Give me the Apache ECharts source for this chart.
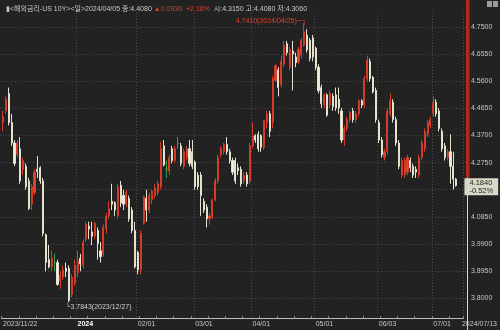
<!DOCTYPE html>
<html>
<head>
<meta charset="utf-8">
<script src="https://cdn.jsdelivr.net/npm/echarts@6/dist/echarts.min.js"></script>
<style>
  html, body { margin: 0; padding: 0; background: #222222; }
  #main { width: 500px; height: 330px; }
</style>
</head>
<body>
<div id="main"></div>
<script>
// trading days shown on the chart, grouped by month
const tradingDays = {
  "2023/11": [22, 24, 27, 28, 29, 30],
  "2023/12": [1, 4, 5, 6, 7, 8, 11, 12, 13, 14, 15, 18, 19, 20, 21, 22, 26, 27, 28, 29],
  "2024/01": [2, 3, 4, 5, 8, 9, 10, 11, 12, 16, 17, 18, 19, 22, 23, 24, 25, 26, 29, 30, 31],
  "2024/02": [1, 2, 5, 6, 7, 8, 9, 12, 13, 14, 15, 16, 20, 21, 22, 23, 26, 27, 28, 29],
  "2024/03": [1, 4, 5, 6, 7, 8, 11, 12, 13, 14, 15, 18, 19, 20, 21, 22, 25, 26, 27, 28],
  "2024/04": [1, 2, 3, 4, 5, 8, 9, 10, 11, 12, 15, 16, 17, 18, 19, 22, 23, 24, 25, 26, 29, 30],
  "2024/05": [1, 2, 3, 6, 7, 8, 9, 10, 13, 14, 15, 16, 17, 20, 21, 22, 23, 24, 28, 29, 30, 31],
  "2024/06": [3, 4, 5, 6, 7, 10, 11, 12, 13, 14, 17, 18, 20, 21, 24, 25, 26, 27, 28],
  "2024/07": [1, 2, 3, 5, 8, 9, 10, 11, 12]
};

// [open, close, low, high]
const candles = [
  [4.40, 4.42, 4.37, 4.44], [4.44, 4.48, 4.43, 4.49], [4.50, 4.40, 4.39, 4.52], [4.40, 4.33, 4.32, 4.43],
  [4.33, 4.26, 4.25, 4.34], [4.29, 4.33, 4.28, 4.34], [4.31, 4.20, 4.19, 4.35], [4.24, 4.27, 4.22, 4.28],
  [4.25, 4.18, 4.17, 4.26], [4.20, 4.105, 4.10, 4.21], [4.12, 4.18, 4.10, 4.19], [4.16, 4.23, 4.15, 4.24],
  [4.24, 4.232, 4.21, 4.285], [4.245, 4.20, 4.19, 4.25], [4.20, 4.02, 4.01, 4.21], [4.015, 3.92, 3.89, 4.02],
  [3.93, 3.905, 3.90, 3.98], [3.905, 3.935, 3.89, 3.96], [3.92, 3.92, 3.89, 3.95], [3.92, 3.845, 3.84, 3.93],
  [3.855, 3.875, 3.83, 3.89], [3.87, 3.895, 3.86, 3.91], [3.90, 3.89, 3.87, 3.92], [3.90, 3.79, 3.7843, 3.91],
  [3.81, 3.87, 3.80, 3.88], [3.85, 3.91, 3.84, 3.93], [3.885, 3.925, 3.87, 3.96], [3.935, 3.915, 3.89, 3.95],
  [3.91, 3.99, 3.90, 4.00], [4.00, 4.05, 3.99, 4.06], [4.045, 4.035, 4.00, 4.06], [4.025, 4.01, 3.98, 4.06],
  [4.01, 4.055, 4.00, 4.06], [4.03, 3.985, 3.93, 4.04], [3.96, 3.94, 3.92, 3.99], [3.95, 4.04, 3.94, 4.05],
  [4.035, 4.08, 4.02, 4.09], [4.08, 4.105, 4.07, 4.13], [4.13, 4.12, 4.10, 4.19], [4.125, 4.10, 4.08, 4.13],
  [4.08, 4.18, 4.07, 4.19], [4.185, 4.125, 4.11, 4.20], [4.15, 4.12, 4.10, 4.17], [4.12, 4.16, 4.11, 4.17],
  [4.14, 4.07, 4.06, 4.15], [4.10, 4.03, 4.02, 4.11], [4.03, 3.905, 3.90, 4.06], [3.955, 3.895, 3.88, 3.96],
  [3.895, 4.02, 3.88, 4.03], [4.055, 4.145, 4.05, 4.15], [4.14, 4.10, 4.06, 4.17], [4.10, 4.15, 4.09, 4.16],
  [4.135, 4.165, 4.12, 4.17], [4.15, 4.175, 4.14, 4.19], [4.16, 4.19, 4.15, 4.20], [4.18, 4.31, 4.17, 4.335],
  [4.32, 4.255, 4.25, 4.34], [4.24, 4.24, 4.21, 4.27], [4.235, 4.28, 4.22, 4.29], [4.31, 4.27, 4.26, 4.32],
  [4.27, 4.31, 4.26, 4.32], [4.33, 4.33, 4.31, 4.35], [4.32, 4.26, 4.25, 4.33], [4.25, 4.30, 4.24, 4.31],
  [4.28, 4.31, 4.27, 4.32], [4.31, 4.26, 4.25, 4.34], [4.30, 4.25, 4.24, 4.34], [4.265, 4.18, 4.17, 4.27],
  [4.22, 4.18, 4.17, 4.23], [4.22, 4.15, 4.08, 4.23], [4.13, 4.10, 4.09, 4.14], [4.11, 4.07, 4.04, 4.12],
  [4.07, 4.08, 4.05, 4.09], [4.075, 4.135, 4.07, 4.14], [4.135, 4.20, 4.13, 4.21], [4.20, 4.28, 4.19, 4.29],
  [4.29, 4.31, 4.28, 4.32], [4.30, 4.325, 4.29, 4.33], [4.325, 4.30, 4.29, 4.35], [4.30, 4.27, 4.26, 4.31],
  [4.27, 4.23, 4.22, 4.28], [4.27, 4.20, 4.19, 4.28], [4.245, 4.235, 4.22, 4.26], [4.24, 4.19, 4.18, 4.25],
  [4.20, 4.22, 4.19, 4.23], [4.22, 4.19, 4.18, 4.23], [4.20, 4.32, 4.19, 4.33], [4.32, 4.355, 4.31, 4.40],
  [4.355, 4.34, 4.33, 4.36], [4.36, 4.31, 4.30, 4.37], [4.355, 4.315, 4.30, 4.36], [4.315, 4.408, 4.306, 4.408],
  [4.40, 4.43, 4.38, 4.44], [4.43, 4.37, 4.35, 4.44], [4.40, 4.55, 4.38, 4.56], [4.545, 4.595, 4.54, 4.60],
  [4.58, 4.52, 4.49, 4.59], [4.53, 4.61, 4.52, 4.63], [4.60, 4.665, 4.59, 4.68], [4.67, 4.64, 4.63, 4.68],
  [4.59, 4.65, 4.58, 4.66], [4.645, 4.635, 4.51, 4.68], [4.625, 4.605, 4.59, 4.64], [4.608, 4.65, 4.60, 4.66],
  [4.632, 4.683, 4.62, 4.69], [4.666, 4.711, 4.66, 4.741], [4.70, 4.649, 4.64, 4.72], [4.683, 4.62, 4.61, 4.69],
  [4.69, 4.625, 4.61, 4.70], [4.655, 4.59, 4.58, 4.66], [4.59, 4.51, 4.50, 4.60], [4.52, 4.465, 4.45, 4.53],
  [4.46, 4.495, 4.45, 4.50], [4.495, 4.425, 4.42, 4.50], [4.46, 4.50, 4.45, 4.51], [4.49, 4.455, 4.44, 4.50],
  [4.495, 4.45, 4.44, 4.52], [4.48, 4.45, 4.43, 4.52], [4.44, 4.34, 4.33, 4.45], [4.34, 4.38, 4.32, 4.39],
  [4.38, 4.41, 4.37, 4.42], [4.41, 4.435, 4.40, 4.44], [4.44, 4.41, 4.40, 4.45], [4.41, 4.43, 4.40, 4.44],
  [4.43, 4.475, 4.42, 4.48], [4.475, 4.46, 4.45, 4.48], [4.46, 4.55, 4.45, 4.56], [4.55, 4.615, 4.54, 4.63],
  [4.61, 4.55, 4.54, 4.62], [4.555, 4.505, 4.50, 4.56], [4.51, 4.41, 4.40, 4.52], [4.40, 4.34, 4.33, 4.41],
  [4.34, 4.29, 4.28, 4.35], [4.28, 4.30, 4.27, 4.31], [4.30, 4.44, 4.29, 4.45], [4.43, 4.475, 4.42, 4.50],
  [4.47, 4.41, 4.40, 4.48], [4.41, 4.33, 4.32, 4.42], [4.33, 4.25, 4.24, 4.34], [4.22, 4.27, 4.21, 4.28],
  [4.22, 4.27, 4.21, 4.28], [4.23, 4.28, 4.22, 4.29], [4.27, 4.245, 4.23, 4.28], [4.25, 4.22, 4.21, 4.26],
  [4.24, 4.23, 4.21, 4.25], [4.22, 4.28, 4.21, 4.29], [4.28, 4.33, 4.27, 4.34], [4.31, 4.37, 4.30, 4.38],
  [4.36, 4.40, 4.35, 4.41], [4.39, 4.41, 4.38, 4.42], [4.43, 4.47, 4.42, 4.49], [4.47, 4.43, 4.42, 4.48],
  [4.44, 4.38, 4.37, 4.45], [4.37, 4.31, 4.30, 4.38], [4.32, 4.28, 4.27, 4.33], [4.28, 4.30, 4.27, 4.31],
  [4.30, 4.25, 4.19, 4.36], [4.25, 4.206, 4.17, 4.30], [4.206, 4.184, 4.18, 4.21]
];

// bottom axis labels
const tickLabels = {
  "2023/11/22": "2023/11/22",
  "2024/01/02": "2024",
  "2024/02/01": "02/01",
  "2024/03/01": "03/01",
  "2024/04/01": "04/01",
  "2024/05/01": "05/01",
  "2024/06/03": "06/03",
  "2024/07/01": "07/01"
};
const axisEndLabel = "2024/07/13";
const headerIndex = 91; // 2024/04/05

const FONT = "'Liberation Sans', 'Noto Sans CJK KR', sans-serif";

window.onload = function () {
  const chart = echarts.init(document.getElementById("main"));

  const dates = [];
  Object.keys(tradingDays).forEach(m => {
    tradingDays[m].forEach(d => dates.push(m + "/" + String(d).padStart(2, "0")));
  });
  const categories = dates.concat(["", axisEndLabel]);

  const monthStarts = new Set();
  Object.keys(tickLabels).forEach(k => {
    const i = categories.indexOf(k);
    if (i > 0) monthStarts.add(i);
  });
  const labelIdx = new Set(monthStarts);
  labelIdx.add(0);
  labelIdx.add(categories.length - 1);

  // header text from the 2024/04/05 bar
  const hc = candles[headerIndex], hp = candles[headerIndex - 1];
  const chg = hc[1] - hp[1];
  const pct = chg / hp[1] * 100;
  const header = "{w|▮<해외금리-US 10Y><일>" + dates[headerIndex] + " 종:" + hc[1].toFixed(4) + " }" +
    "{r|▲" + chg.toFixed(4) + "  +" + pct.toFixed(2) + "%}" +
    "{w|  시:" + hc[0].toFixed(4) + " 고:" + hc[3].toFixed(4) + " 저:" + hc[2].toFixed(4) + "}";

  // extremes
  let iMax = 0, iMin = 0;
  candles.forEach((c, i) => {
    if (c[3] > candles[iMax][3]) iMax = i;
    if (c[2] < candles[iMin][2]) iMin = i;
  });
  const last = candles[candles.length - 1];
  const prevClose = candles[candles.length - 2][1];
  const lastPct = (last[1] - prevClose) / prevClose * 100;

  const gridColors = ["rgba(0,0,0,0)"];
  for (let k = 0; k < 11; k++) gridColors.push("#4a4a4a");
  gridColors.push("rgba(0,0,0,0)");

  const options = {
    backgroundColor: "#222222",
    animation: false,
    textStyle: { fontFamily: FONT },
    title: {
      text: header,
      left: 1,
      top: 1,
      textStyle: {
        fontSize: 7,
        fontWeight: "normal",
        rich: {
          w: { color: "#c9c9c9", fontSize: 7, fontFamily: FONT },
          r: { color: "#e0402f", fontSize: 7, fontFamily: FONT }
        }
      }
    },
    grid: [
      { left: 0, right: 33, top: 13, bottom: 12 },
      { left: 0, right: 33, top: -7.2, bottom: 4.78 }
    ],
    xAxis: [
      {
        type: "category",
        gridIndex: 0,
        data: categories,
        boundaryGap: true,
        axisLine: { lineStyle: { color: "#bdbdbd", width: 1 } },
        axisTick: { show: true, inside: true, length: 2, interval: 5, lineStyle: { color: "#8a8a8a" } },
        axisLabel: {
          interval: i => labelIdx.has(i),
          formatter: v => v === axisEndLabel ? v : (v === "2024/01/02" ? "{b|2024}" : (tickLabels[v] || "")),
          align: "left",
          margin: 3,
          color: "#c6c6c6",
          fontSize: 7,
          fontFamily: FONT,
          rich: { b: { color: "#ffffff", fontWeight: "bold", fontSize: 7, fontFamily: FONT } }
        },
        splitLine: {
          show: true,
          interval: i => monthStarts.has(i),
          lineStyle: { color: "#4a4a4a", type: [1, 2] }
        }
      },
      { type: "value", gridIndex: 1, show: false, min: 0, max: 1 }
    ],
    yAxis: [
      { type: "value", gridIndex: 0, show: false, min: 3.7298, max: 4.7757 },
      {
        type: "value",
        gridIndex: 1,
        position: "right",
        min: 3.705,
        max: 4.845,
        interval: 0.095,
        axisLine: { show: false },
        axisTick: { show: false },
        axisLabel: {
          formatter: v => (v < 3.7999 || v > 4.7501) ? "" : v.toFixed(4),
          color: "#c6c6c6",
          fontSize: 7,
          margin: 4,
          fontFamily: FONT
        },
        splitLine: { show: true, lineStyle: { color: gridColors, type: [1, 2] } }
      }
    ],
    series: [
      {
        type: "candlestick",
        xAxisIndex: 0,
        yAxisIndex: 0,
        data: candles,
        barWidth: 1.6,
        itemStyle: {
          color: "#e2452f",
          color0: "#f2f0dd",
          borderColor: "#d23c29",
          borderColor0: "#e4e2cf",
          borderColorDoji: "#3f9b4a",
          borderWidth: 1
        },
        markPoint: {
          symbol: "rect",
          symbolSize: 1,
          itemStyle: { color: "rgba(0,0,0,0)" },
          data: [
            {
              coord: [dates[iMax], candles[iMax][3]],
              label: {
                show: true,
                position: "left",
                distance: 0,
                offset: [3, -2],
                formatter: candles[iMax][3].toFixed(4) + "(" + dates[iMax] + ")─┐",
                color: "#e0402f",
                fontSize: 7,
                fontFamily: FONT
              }
            },
            {
              coord: [dates[iMin], candles[iMin][2]],
              label: {
                show: true,
                position: [-3, 2],
                align: "left",
                verticalAlign: "top",
                formatter: "└" + candles[iMin][2].toFixed(4) + "(" + dates[iMin] + ")",
                color: "#cfcfcf",
                fontSize: 7,
                fontFamily: FONT
              }
            }
          ]
        },
        markLine: {
          symbol: ["none", "none"],
          silent: true,
          lineStyle: { color: "rgba(0,0,0,0)", width: 0 },
          label: {
            show: true,
            position: "end",
            distance: 1,
            backgroundColor: "#d9d9c8",
            padding: [1, 5, 0, 5],
            lineHeight: 8,
            color: "#222222",
            fontSize: 7.5,
            fontFamily: FONT,
            formatter: last[1].toFixed(4) + "\n" + lastPct.toFixed(2) + "%"
          },
          data: [{ yAxis: last[1] }]
        }
      }
    ]
  };

  chart.setOption(options);

  // right edge: red bar above the last price, white line below
  const yLast = chart.convertToPixel({ xAxisIndex: 0, yAxisIndex: 0 }, [dates[dates.length - 1], last[1]])[1];
  chart.setOption({
    graphic: [
      { type: "line", shape: { x1: 467.5, y1: 0, x2: 467.5, y2: 330 }, style: { stroke: "#d6d6d6", lineWidth: 1 }, z: 10 },
      { type: "rect", shape: { x: 466, y: 0, width: 3.5, height: yLast - 8 }, style: { fill: "#b3281f" }, z: 11 },
      { type: "rect", shape: { x: 487, y: 1, width: 5, height: 6 }, style: { fill: "#9a9a9a" }, z: 11 },
      { type: "rect", shape: { x: 493, y: 1, width: 5, height: 6 }, style: { fill: "#9a9a9a" }, z: 11 }
    ]
  });
};
</script>
</body>
</html>
